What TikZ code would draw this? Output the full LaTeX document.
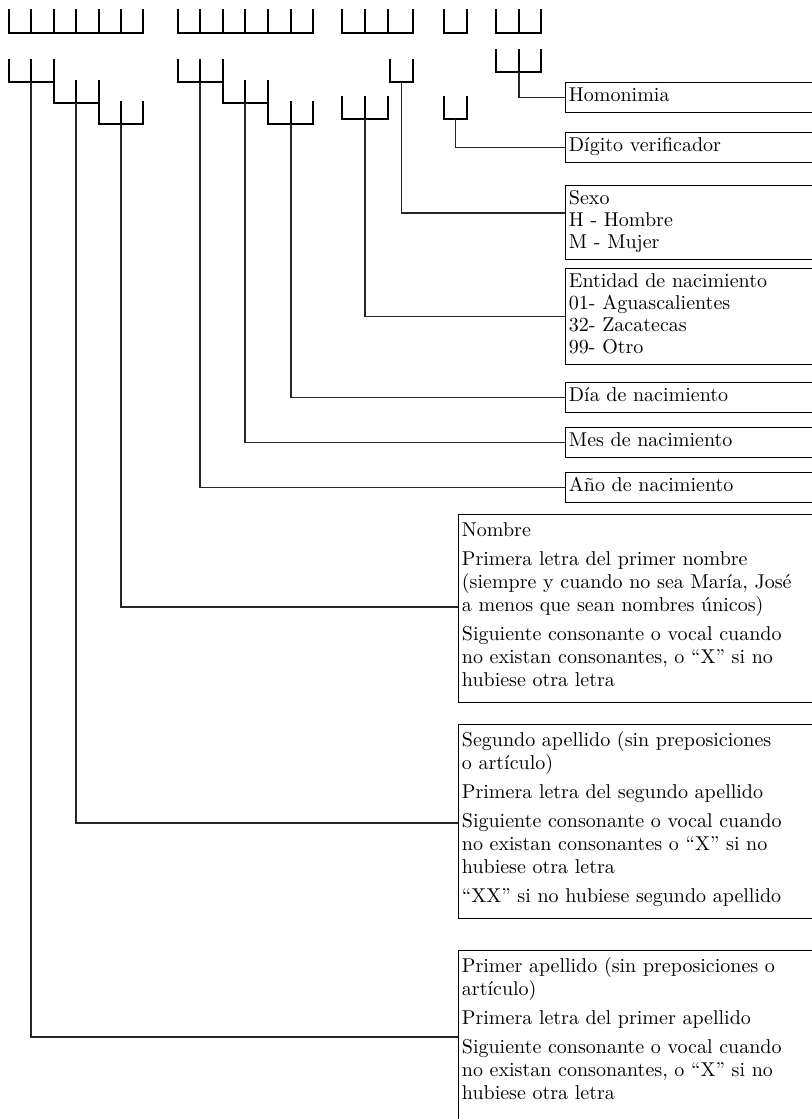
\documentclass[tikz,border=0pt]{standalone}
\usepackage{fontspec}
\setmainfont{lmroman10-regular.otf}
\usetikzlibrary{calc}

\tikzset{
  brk/.style={line width=1.2pt, line cap=rect},
  conn/.style={line width=0.8pt, black!85},
  tbox/.style={draw, line width=0.9pt, anchor=north west, inner xsep=2.5pt,
    inner ysep=0pt, align=left},
  ubox/.style={tbox, text width=230pt, font=\fontsize{15}{16.5}\selectfont,
    execute at begin node={\rule{0pt}{14.25pt}},
    execute at end node={\rule[-8.25pt]{0pt}{0pt}}},
  lbox/.style={tbox, text width=300pt, font=\fontsize{15}{17.25}\selectfont,
    execute at begin node={\rule{0pt}{16.5pt}},
    execute at end node={\rule[-12pt]{0pt}{0pt}}},
}

\begin{document}
\begin{tikzpicture}[x=0.75pt,y=-0.75pt]
  \useasboundingbox (0,0) rectangle (812,1119);
  \clip (0,0) rectangle (812,1119);

  % the 18 places of the key
  \draw[brk] (9,10)   |- (143,33) -- (143,10);
  \foreach \x in {31,54,76,99,121} \draw[brk] (\x,10) -- (\x,33);
  \draw[brk] (178,10) |- (313,33) -- (313,10);
  \foreach \x in {200,223,245,268,291} \draw[brk] (\x,10) -- (\x,33);
  \draw[brk] (342,10) |- (413,33) -- (413,10);
  \foreach \x in {365,388} \draw[brk] (\x,10) -- (\x,33);
  \draw[brk] (444,10) |- (467,33) -- (467,10);
  \draw[brk] (496,10) |- (541,33) -- (541,10);
  \draw[brk] (519,10) -- (519,33);

  % grouped places
  \draw[brk] (9,60)   |- (54,82)   -- (54,60);
  \draw[brk] (54,82)  |- (99,103)  -- (99,81);
  \draw[brk] (99,103) |- (143,124) -- (143,102);
  \draw[brk] (31,60) -- (31,82);
  \draw[brk] (76,81) -- (76,103);
  \draw[brk] (121,102) -- (121,124);

  \draw[brk] (178,60) |- (223,82)  -- (223,60);
  \draw[brk] (223,82) |- (268,103) -- (268,81);
  \draw[brk] (268,103) |- (313,124) -- (313,102);
  \draw[brk] (200,60) -- (200,82);
  \draw[brk] (245,81) -- (245,103);
  \draw[brk] (291,102) -- (291,124);

  \draw[brk] (342,97) |- (388,119) -- (388,97);
  \draw[brk] (365,97) -- (365,119);
  \draw[brk] (390,60) |- (413,82) -- (413,60);
  \draw[brk] (444,97) |- (467,119) -- (467,97);
  \draw[brk] (496,50) |- (541,72) -- (541,50);
  \draw[brk] (519,50) -- (519,72);

  \coordinate (sPRI) at (31,82);
  \coordinate (sSEG) at (76,103);
  \coordinate (sNOM) at (121,124);
  \coordinate (sANO) at (200,82);
  \coordinate (sMES) at (245,103);
  \coordinate (sDIA) at (291,124);
  \coordinate (sENT) at (365,119);
  \coordinate (sSEX) at (401.5,82);
  \coordinate (sDIG) at (455.5,119);
  \coordinate (sHOM) at (519,72);

  \node[ubox] (HOM) at (565,82)  {Homonimia};
  \node[ubox] (DIG) at (565,132) {Dígito verificador};
  \node[ubox] (SEX) at (565,185) {Sexo\\H - Hombre\\M - Mujer};
  \node[ubox] (ENT) at (565,268) {Entidad de nacimiento\\01- Aguascalientes\\32- Zacatecas\\99- Otro};
  \node[ubox] (DIA) at (565,382) {Día de nacimiento};
  \node[ubox] (MES) at (565,427) {Mes de nacimiento};
  \node[ubox] (ANO) at (565,472) {Año de nacimiento};

  \node[lbox] (NOM) at (458,514) {Nombre\\[4.5pt]
    Primera letra del primer nombre\\(siempre y cuando no sea María, José\\a menos que sean nombres únicos)\\[4.5pt]
    Siguiente consonante o vocal cuando\\no existan consonantes, o “X” si no\\hubiese otra letra};
  \node[lbox] (SEG) at (458,724) {Segundo apellido (sin preposiciones\\o artículo)\\[4.5pt]
    Primera letra del segundo apellido\\[4.5pt]
    Siguiente consonante o vocal cuando\\no existan consonantes o “X” si no\\hubiese otra letra\\[4.5pt]
    “XX” si no hubiese segundo apellido};
  \node[lbox] (PRI) at (458,950) {Primer apellido (sin preposiciones o\\artículo)\\[4.5pt]
    Primera letra del primer apellido\\[4.5pt]
    Siguiente consonante o vocal cuando\\no existan consonantes, o “X” si no\\hubiese otra letra\\[4.5pt]
    \phantom{X}};

  \draw[conn] (sHOM) |- (HOM.west);
  \draw[conn] (sDIG) |- (DIG.west);
  \draw[conn] (sSEX) |- ($(SEX.north west)+(0,28)$);
  \draw[conn] (sENT) |- (ENT.west);
  \draw[conn] (sDIA) |- (DIA.west);
  \draw[conn] (sMES) |- (MES.west);
  \draw[conn] (sANO) |- (ANO.west);
  \draw[conn] (sNOM) |- ($(NOM.north west)+(0,93)$);
  \draw[conn] (sSEG) |- ($(SEG.north west)+(0,99)$);
  \draw[conn] (sPRI) |- ($(PRI.north west)+(0,87)$);
\end{tikzpicture}
\end{document}
